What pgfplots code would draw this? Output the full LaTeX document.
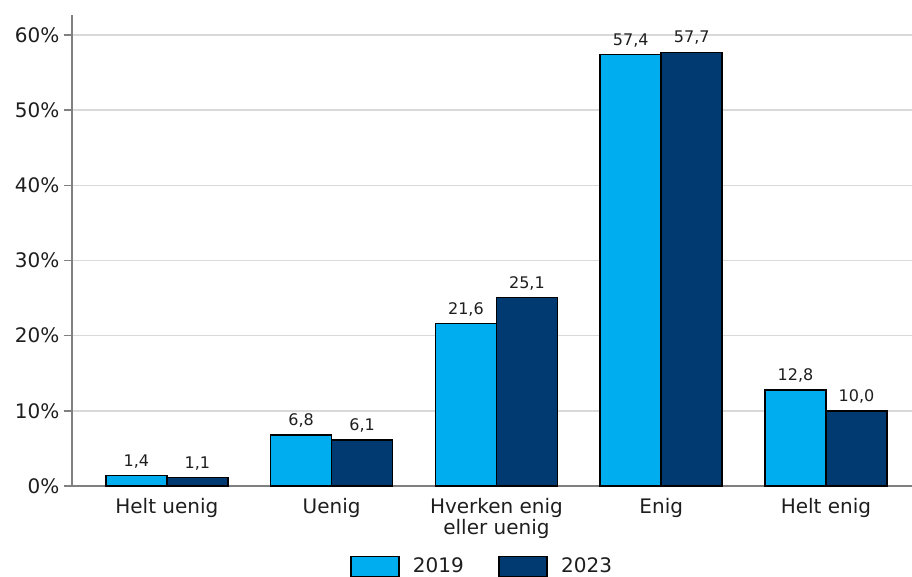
\documentclass[border=0pt]{standalone}
\usepackage{fontspec}
\setmainfont{DejaVu Sans}
\usepackage{pgfplots}
\pgfplotsset{compat=1.18}
\definecolor{cA}{HTML}{00AEEF}
\definecolor{cB}{HTML}{003A70}
\definecolor{gridc}{HTML}{D9D9D9}
\definecolor{axc}{HTML}{808080}
\definecolor{txt}{HTML}{1E1E1E}
\begin{document}
\begin{tikzpicture}
\begin{axis}[
  at={(0,0)}, anchor=south west,
  width=630pt, height=353.25pt, scale only axis,
  xmin=-0.576, xmax=4.522, ymin=0, ymax=62.66,
  axis x line*=bottom, axis y line*=left,
  axis line style={draw=axc, line width=1.5pt, -},
  ytick={0,10,...,60}, yticklabels={0\%,10\%,20\%,30\%,40\%,50\%,60\%},
  xtick={0,1,2,3,4},
  xticklabels={Helt uenig, Uenig, {Hverken enig\\eller uenig}, Enig, Helt enig},
  ymajorgrids, grid style={gridc, line width=1.1pt},
  y tick style={draw=axc, line width=1.1pt}, tick align=outside, major tick length=6pt,
  x tick style={draw=none},
  tick label style={font=\fontsize{15}{14.3}\selectfont, text=txt},
  xticklabel style={align=center},
  ybar=0pt, bar width=45.75pt,
  nodes near coords, point meta=explicit symbolic,
  every node near coord/.append style={font=\fontsize{12}{14}\selectfont, text=txt, anchor=base, yshift=7pt},
  legend style={at={(0.331,0)}, anchor=north west, yshift=-52.5pt, draw=none, fill=none,
    inner sep=0pt, outer sep=0pt, legend columns=2, column sep=0pt,
    /tikz/every even column/.append style={column sep=16pt},
    font=\fontsize{15}{18}\selectfont, text=txt, nodes={inner xsep=10pt, inner ysep=0pt}},
  legend image code/.code={\draw[#1, draw=black, line width=1.1pt] (0pt,-7.7pt) rectangle (36pt,7.3pt);},
]
\addplot[fill=cA, draw=black, line width=1.1pt] coordinates {(0,1.4) [1,4] (1,6.8) [6,8] (2,21.6) [21,6] (3,57.4) [57,4] (4,12.8) [12,8]};
\addplot[fill=cB, draw=black, line width=1.1pt] coordinates {(0,1.1) [1,1] (1,6.1) [6,1] (2,25.1) [25,1] (3,57.7) [57,7] (4,10.0) [10,0]};
\legend{2019,2023}
\end{axis}
\pgfresetboundingbox
\path[use as bounding box] (-54pt,-67.5pt) rectangle (630pt,364.5pt);
\end{tikzpicture}
\end{document}
